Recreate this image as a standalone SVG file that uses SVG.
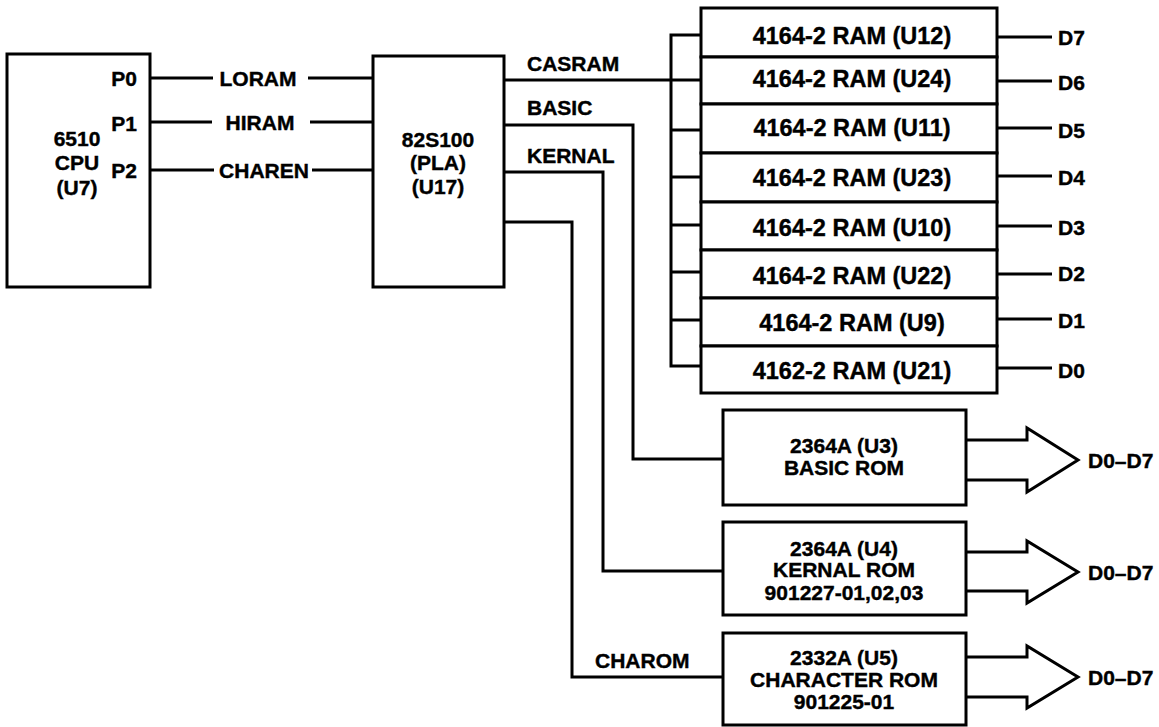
<svg xmlns="http://www.w3.org/2000/svg" width="1159" height="727" viewBox="0 0 1159 727">
<style>
.ln{fill:none;stroke:#000;stroke-width:3;stroke-linejoin:miter}
.bx{fill:#fff;stroke:#000;stroke-width:3}
text{font-family:"Liberation Sans",Arial,Helvetica,sans-serif;font-weight:bold;font-size:21px;fill:#000;stroke:#000;stroke-width:0.4}
.m{text-anchor:middle}
.e{text-anchor:end}
.ram{font-size:23.5px}
</style>
<rect width="1159" height="727" fill="#fff"/>
<g id="connectors">
  <path class="ln" d="M150 78H213M308 78H373"/>
  <path class="ln" d="M150 122H212M310 122H373"/>
  <path class="ln" d="M150 170H214M312 170H373"/>
  <text x="258" y="85.5" class="m">LORAM</text>
  <text x="260" y="129.5" class="m">HIRAM</text>
  <text x="264" y="177.5" class="m">CHAREN</text>
  <path class="ln" d="M504 80H701"/>
  <path class="ln" d="M701 35H671V366H701"/>
  <path class="ln" d="M671 130H701M671 177H701M671 225H701M671 272H701M671 320H701"/>
  <text x="527" y="70.5">CASRAM</text>
  <path class="ln" d="M504 125H633V459H723"/>
  <text x="527" y="114.5">BASIC</text>
  <path class="ln" d="M504 172H603V571H723"/>
  <text x="527" y="162.5">KERNAL</text>
  <path class="ln" d="M504 222H572V677H723"/>
  <text x="595" y="667.5">CHAROM</text>
  <path class="ln" d="M997 37H1052M997 81H1052M997 128H1052M997 176H1052M997 226H1052M997 274H1052M997 319H1052M997 368H1052"/>
  <text x="1058" y="44.5">D7</text>
  <text x="1058" y="89.5">D6</text>
  <text x="1058" y="137.5">D5</text>
  <text x="1058" y="184.5">D4</text>
  <text x="1058" y="234.5">D3</text>
  <text x="1058" y="280.5">D2</text>
  <text x="1058" y="327.5">D1</text>
  <text x="1058" y="377.5">D0</text>
  <path class="ln" d="M966 440H1027V428L1078 460L1027 492V480H966"/>
  <path class="ln" d="M966 552H1027V541L1078 572L1027 603V591H966"/>
  <path class="ln" d="M966 657H1027V646L1078 677L1027 708V697H966"/>
  <text x="1088" y="467.5">D0–D7</text>
  <text x="1088" y="579.5">D0–D7</text>
  <text x="1088" y="684.5">D0–D7</text>
</g>
<g id="cpu">
  <rect class="bx" x="7" y="54" width="143" height="233"/>
  <text x="77" y="145.5" class="m">6510</text>
  <text x="77" y="169.5" class="m">CPU</text>
  <text x="77" y="194.5" class="m">(U7)</text>
  <text x="137" y="85.5" class="e">P0</text>
  <text x="137" y="130.5" class="e">P1</text>
  <text x="137" y="177.5" class="e">P2</text>
</g>
<g id="pla">
  <rect class="bx" x="373" y="56" width="131" height="231"/>
  <text x="438" y="146.5" class="m">82S100</text>
  <text x="438" y="169.5" class="m">(PLA)</text>
  <text x="438" y="193.5" class="m">(U17)</text>
</g>
<g id="ram-u12"><rect class="bx" x="701" y="8" width="296" height="49"/><text class="m ram" x="852" y="43.5">4164-2 RAM (U12)</text></g>
<g id="ram-u24"><rect class="bx" x="701" y="57" width="296" height="47"/><text class="m ram" x="852" y="86.5">4164-2 RAM (U24)</text></g>
<g id="ram-u11"><rect class="bx" x="701" y="104" width="296" height="49"/><text class="m ram" x="852" y="135.5">4164-2 RAM (U11)</text></g>
<g id="ram-u23"><rect class="bx" x="701" y="153" width="296" height="49"/><text class="m ram" x="852" y="185.5">4164-2 RAM (U23)</text></g>
<g id="ram-u10"><rect class="bx" x="701" y="202" width="296" height="48"/><text class="m ram" x="852" y="235.5">4164-2 RAM (U10)</text></g>
<g id="ram-u22"><rect class="bx" x="701" y="250" width="296" height="48"/><text class="m ram" x="852" y="283.5">4164-2 RAM (U22)</text></g>
<g id="ram-u9"><rect class="bx" x="701" y="298" width="296" height="48"/><text class="m ram" x="852" y="330.5">4164-2 RAM (U9)</text></g>
<g id="ram-u21"><rect class="bx" x="701" y="346" width="296" height="47"/><text class="m ram" x="852" y="378.5">4162-2 RAM (U21)</text></g>
<g id="rom-u3">
  <rect class="bx" x="723" y="410" width="243" height="95"/>
  <text x="844" y="452.5" class="m">2364A (U3)</text>
  <text x="844" y="474.5" class="m">BASIC ROM</text>
</g>
<g id="rom-u4">
  <rect class="bx" x="723" y="522" width="243" height="93"/>
  <text x="844" y="555.5" class="m">2364A (U4)</text>
  <text x="844" y="576.5" class="m">KERNAL ROM</text>
  <text x="844" y="599.5" class="m">901227-01,02,03</text>
</g>
<g id="rom-u5">
  <rect class="bx" x="723" y="633" width="243" height="92"/>
  <text x="844" y="664.5" class="m">2332A (U5)</text>
  <text x="844" y="686.5" class="m">CHARACTER ROM</text>
  <text x="844" y="708.5" class="m">901225-01</text>
</g>
</svg>
